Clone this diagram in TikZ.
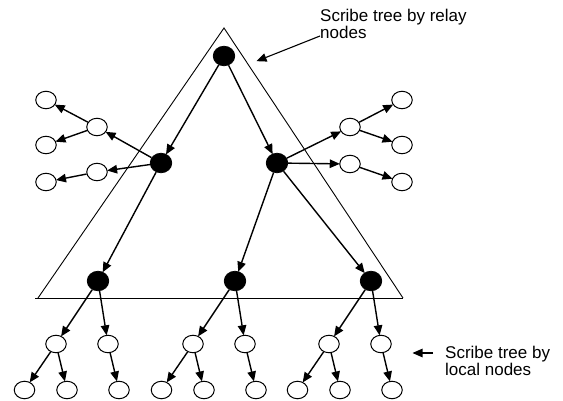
\documentclass[tikz,border=0pt]{standalone}
\usepackage{fontspec}
\setmainfont{Liberation Sans}
\usetikzlibrary{shapes.geometric,arrows.meta}
\begin{document}
\begin{tikzpicture}[x=1pt,y=-1pt,
  relay/.style={ellipse,draw,fill=black,line width=0.8pt,minimum width=21.5pt,minimum height=19.5pt,inner sep=0pt},
  local/.style={ellipse,draw,fill=white,line width=1pt,minimum width=20.5pt,minimum height=17.5pt,inner sep=0pt},
  arr/.style={line width=1.4pt,-{Triangle[length=10pt,width=8.5pt]},shorten >=-0.5pt},
  frame/.style={line width=0.9pt},
  label/.style={font=\fontsize{17}{17.5}\selectfont,align=left,inner sep=0pt}]
\useasboundingbox (0,0) rectangle (563,401);

% triangle enclosing the relay tree
\coordinate (apex) at (224,28);
\coordinate (bl) at (38,298);
\coordinate (bl0) at (35,298);
\coordinate (br) at (403,298);
\draw[frame] (bl) -- (apex) -- (br);
\draw[frame] (bl0) -- (br);

% relay nodes
\node[relay] (r0) at (224,56) {};
\node[relay] (r1) at (161,163) {};
\node[relay] (r2) at (277,163) {};
\node[relay] (b1) at (98,281) {};
\node[relay] (b2) at (235,281) {};
\node[relay] (b3) at (371,281) {};

\draw[arr] (r0) -- (r1);
\draw[arr] (r0) -- (r2);
\draw[arr] (r1) -- (b1);
\draw[arr] (r2) -- (b2);
\draw[arr] (r2) -- (b3);

% side branches on the left
\node[local] (l1) at (97,127) {};
\node[local] (l2) at (97,172) {};
\node[local] (l11) at (46,100) {};
\node[local] (l12) at (46,145) {};
\node[local] (l21) at (46,182) {};
\draw[arr] (r1) -- (l1);
\draw[arr] (r1) -- (l2);
\draw[arr] (l1) -- (l11);
\draw[arr] (l1) -- (l12);
\draw[arr] (l2) -- (l21);

% side branches on the right
\node[local] (q1) at (350,127) {};
\node[local] (q2) at (350,164) {};
\node[local] (q11) at (402,100) {};
\node[local] (q12) at (402,145) {};
\node[local] (q21) at (402,182) {};
\draw[arr] (r2) -- (q1);
\draw[arr] (r2) -- (q2);
\draw[arr] (q1) -- (q11);
\draw[arr] (q1) -- (q12);
\draw[arr] (q2) -- (q21);

% local trees below the base
\foreach \b/\x in {b1/98, b2/235, b3/371} {
  \node[local] (\b a) at ({\x-42},344) {};
  \node[local] (\b b) at ({\x+10},344) {};
  \node[local] (\b aa) at ({\x-73.5},390) {};
  \node[local] (\b ab) at ({\x-31},390) {};
  \node[local] (\b ba) at ({\x+21},390) {};
  \draw[arr] (\b) -- (\b a);
  \draw[arr] (\b) -- (\b b);
  \draw[arr] (\b a) -- (\b aa);
  \draw[arr] (\b a) -- (\b ab);
  \draw[arr] (\b b) -- (\b ba);
}

% annotations (base anchor sits on the last line)
\node[label,anchor=base west] (t1) at (320,39) {Scribe tree by relay\\nodes};
\coordinate (t1s) at (320,36);
\coordinate (t1e) at (257,61);
\draw[arr,line width=1.1pt] (t1s) -- (t1e);

\node[label,anchor=base west] (t2) at (445,375.5) {Scribe tree by\\local nodes};
\coordinate (t2s) at (433,353);
\coordinate (t2e) at (413,353);
\draw[arr,line width=1.1pt] (t2s) -- (t2e);
\end{tikzpicture}
\end{document}
